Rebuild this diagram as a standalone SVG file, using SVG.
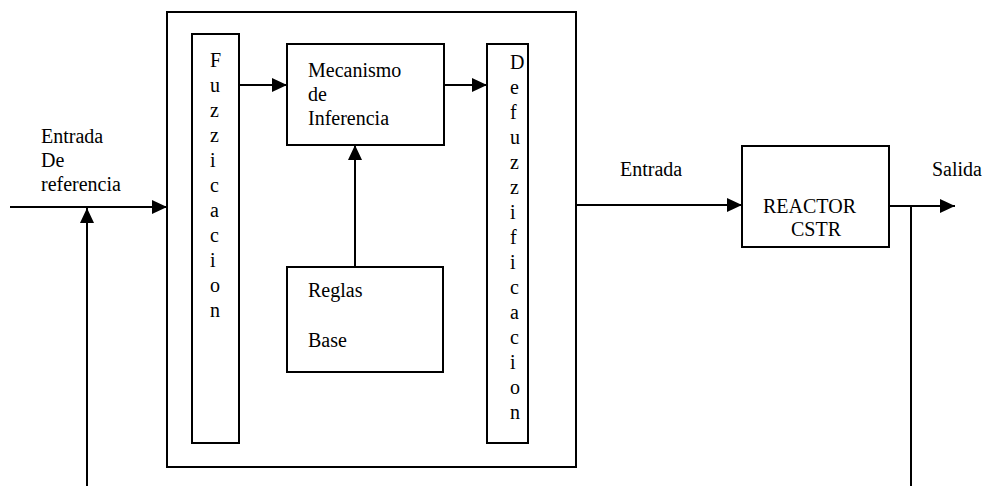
<svg xmlns="http://www.w3.org/2000/svg" width="989" height="486" viewBox="0 0 989 486">
  <style>
    .box { fill: #fff; stroke: #000; stroke-width: 2; }
    .wire { fill: none; stroke: #000; stroke-width: 2; }
    text { font-family: "Times New Roman", Times, "Liberation Serif", "DejaVu Serif", serif; font-size: 20px; fill: #000; }
  </style>
  <defs>
    <marker id="arrow" markerUnits="userSpaceOnUse" markerWidth="16" markerHeight="16" viewBox="0 0 16 16" refX="15" refY="8" orient="auto">
      <polygon points="0,1 15,8 0,15" fill="#000"/>
    </marker>
  </defs>

  <!-- fuzzy controller enclosure -->
  <g id="controller">
    <rect class="box" x="167" y="12" width="409" height="455"/>
  </g>

  <g id="fuzzificacion">
    <rect class="box" x="192" y="34" width="47" height="409"/>
    <text x="210" y="67">F</text>
    <text x="210" y="92">u</text>
    <text x="210" y="117">z</text>
    <text x="210" y="142">z</text>
    <text x="210" y="167">i</text>
    <text x="210" y="192">c</text>
    <text x="210" y="217">a</text>
    <text x="210" y="242">c</text>
    <text x="210" y="267">i</text>
    <text x="210" y="292">o</text>
    <text x="210" y="317">n</text>
  </g>

  <g id="inferencia">
    <rect class="box" x="287" y="44" width="157" height="101"/>
    <text x="308" y="77">Mecanismo</text>
    <text x="308" y="101">de</text>
    <text x="308" y="125">Inferencia</text>
  </g>

  <g id="reglas">
    <rect class="box" x="287" y="267" width="156" height="105"/>
    <text x="308" y="297">Reglas</text>
    <text x="308" y="347">Base</text>
  </g>

  <g id="defuzzificacion">
    <rect class="box" x="487" y="44" width="41" height="399"/>
    <text x="510" y="69">D</text>
    <text x="510" y="94">e</text>
    <text x="510" y="119">f</text>
    <text x="510" y="144">u</text>
    <text x="510" y="169">z</text>
    <text x="510" y="194">z</text>
    <text x="510" y="219">i</text>
    <text x="510" y="244">f</text>
    <text x="510" y="269">i</text>
    <text x="510" y="294">c</text>
    <text x="510" y="319">a</text>
    <text x="510" y="344">c</text>
    <text x="510" y="369">i</text>
    <text x="510" y="394">o</text>
    <text x="510" y="419">n</text>
  </g>

  <g id="reactor">
    <rect class="box" x="742" y="146" width="147" height="101"/>
    <text x="763" y="213">REACTOR</text>
    <text x="791" y="236">CSTR</text>
  </g>

  <!-- signal labels -->
  <g id="labels">
    <text x="41" y="143">Entrada</text>
    <text x="41" y="167">De</text>
    <text x="41" y="191">referencia</text>
    <text x="620" y="176">Entrada</text>
    <text x="932" y="176">Salida</text>
  </g>

  <!-- connectors -->
  <g id="connectors">
    <line class="wire" x1="10" y1="207" x2="167" y2="207" marker-end="url(#arrow)"/>
    <line class="wire" x1="87" y1="486" x2="87" y2="208" marker-end="url(#arrow)"/>
    <line class="wire" x1="239" y1="85" x2="287" y2="85" marker-end="url(#arrow)"/>
    <line class="wire" x1="444" y1="85" x2="487" y2="85" marker-end="url(#arrow)"/>
    <line class="wire" x1="355" y1="267" x2="355" y2="145" marker-end="url(#arrow)"/>
    <line class="wire" x1="576" y1="205" x2="742" y2="205" marker-end="url(#arrow)"/>
    <line class="wire" x1="889" y1="206" x2="955" y2="206" marker-end="url(#arrow)"/>
    <line class="wire" x1="911" y1="206" x2="911" y2="486"/>
  </g>
</svg>
